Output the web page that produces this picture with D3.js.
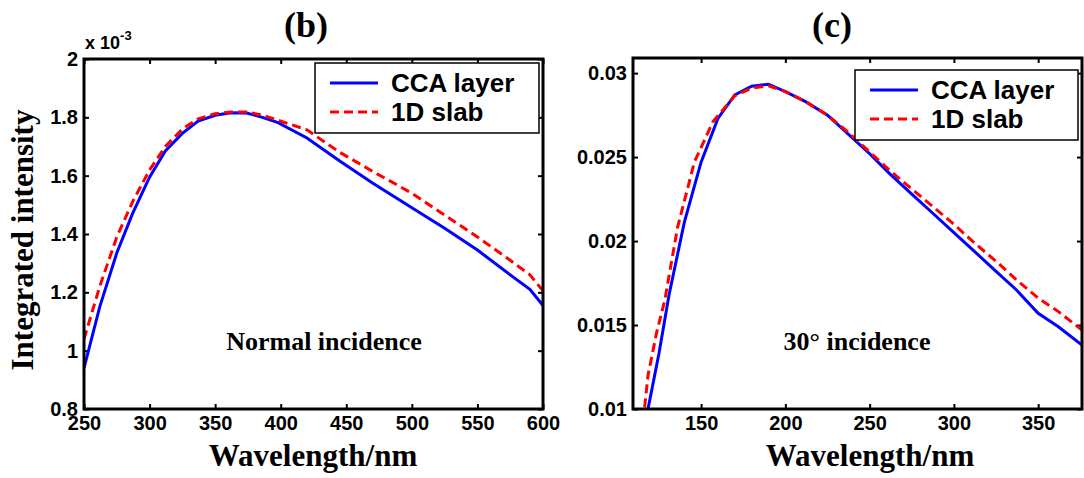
<!DOCTYPE html>
<html>
<head>
<meta charset="utf-8">
<script src="https://cdn.jsdelivr.net/npm/d3@7"></script>
<style>
    body { margin: 0; background: #fff; }
    svg { display: block; }
</style>
</head>
<body>
<svg id="chart" width="1084" height="478"></svg>
<script>
"use strict";

// panel (b): normal incidence, intensity in units of 1e-3
const wavelengthB = [250, 262, 275, 287, 300, 312, 325, 337, 350, 362, 374, 386, 398, 420, 445, 470, 500, 525, 550, 575, 590, 600];
const ccaB = [0.94, 1.15, 1.335, 1.47, 1.595, 1.685, 1.745, 1.787, 1.807, 1.816, 1.815, 1.80, 1.782, 1.729, 1.650, 1.575, 1.49, 1.42, 1.345, 1.26, 1.21, 1.155];
const slabB = [1.04, 1.22, 1.39, 1.51, 1.62, 1.70, 1.76, 1.795, 1.812, 1.818, 1.818, 1.808, 1.79, 1.757, 1.68, 1.615, 1.54, 1.465, 1.39, 1.31, 1.26, 1.205];

// panel (c): 30 degree incidence
const wavelengthC1 = [118.5, 125, 131, 140, 150, 160, 170, 180, 190, 200, 212, 225, 237, 250, 262, 275, 287, 300, 312, 325, 337, 350, 362, 376];
const ccaC = [0.0100, 0.0133, 0.0168, 0.0211, 0.0247, 0.0273, 0.0287, 0.02922, 0.02934, 0.0289, 0.0283, 0.0275, 0.0264, 0.0252, 0.0240, 0.0228, 0.0217, 0.0205, 0.0194, 0.0182, 0.0171, 0.0157, 0.0149, 0.0138];
const wavelengthC2 = [116.5, 118.5, 123.5, 128.5, 136, 146, 157, 170, 180, 190, 200, 212, 225, 237, 250, 262, 275, 287, 300, 312, 325, 337, 350, 362, 376];
const slabC = [0.0101, 0.0120, 0.0145, 0.0165, 0.0208, 0.0247, 0.0271, 0.02865, 0.0291, 0.02925, 0.0289, 0.0283, 0.0275, 0.0265, 0.0253, 0.0242, 0.0231, 0.0221, 0.0210, 0.0199, 0.0188, 0.0177, 0.0166, 0.0158, 0.0147];

const ticksXB = [250, 300, 350, 400, 450, 500, 550, 600];
const ticksYB = [0.8, 1, 1.2, 1.4, 1.6, 1.8, 2];
const ticksXC = [150, 200, 250, 300, 350];
const ticksYC = [0.01, 0.015, 0.02, 0.025, 0.03];

const legendNames = ["CCA layer", "1D slab"];

const svg = d3.select("#chart");
const sansFont = "'Liberation Sans', Arial, sans-serif";
const serifFont = "'Liberation Serif', 'Times New Roman', serif";


function drawPanel(p) {
    const x = d3.scaleLinear().domain(p.xDomain).range([p.left, p.right]);
    const y = d3.scaleLinear().domain(p.yDomain).range([p.bottom, p.top]);
    const g = svg.append("g");

    g.append("clipPath").attr("id", p.id + "-clip")
        .append("rect")
        .attr("x", p.left).attr("y", p.top)
        .attr("width", p.right - p.left).attr("height", p.bottom - p.top);

    // inward ticks on all four sides
    const axes = [
        [d3.axisBottom(x).tickValues(p.xTicks).tickFormat(p.xFormat), p.bottom, true],
        [d3.axisTop(x).tickValues(p.xTicks).tickFormat(""), p.top, true],
        [d3.axisLeft(y).tickValues(p.yTicks).tickFormat(p.yFormat), p.left, false],
        [d3.axisRight(y).tickValues(p.yTicks).tickFormat(""), p.right, false]
    ];
    for (const [axis, pos, horiz] of axes) {
        axis.tickSizeInner(-5).tickSizeOuter(0).tickPadding(horiz ? 7 : 6);
        const ag = g.append("g")
            .attr("transform", horiz ? `translate(0,${pos})` : `translate(${pos},0)`)
            .call(axis);
        ag.select(".domain").remove();
        ag.selectAll("line").attr("stroke", "#000").attr("stroke-width", 2);
        ag.selectAll("text")
            .attr("fill", "#000")
            .style("font-family", sansFont)
            .style("font-weight", "bold")
            .style("font-size", "20px");
    }

    const line = d3.line().x(d => x(d[0])).y(d => y(d[1]));
    const lines = g.append("g").attr("clip-path", `url(#${p.id}-clip)`);
    lines.append("path")
        .datum(d3.zip(p.x1, p.cca))
        .attr("d", line)
        .attr("fill", "none")
        .attr("stroke", "#0000ff")
        .attr("stroke-width", 3);
    lines.append("path")
        .datum(d3.zip(p.x2, p.slab))
        .attr("d", line)
        .attr("fill", "none")
        .attr("stroke", "#ff0000")
        .attr("stroke-width", 3)
        .attr("stroke-dasharray", "9,5");

    g.append("rect")
        .attr("x", p.left).attr("y", p.top)
        .attr("width", p.right - p.left).attr("height", p.bottom - p.top)
        .attr("fill", "none")
        .attr("stroke", "#000")
        .attr("stroke-width", 3);

    // legend
    const lg = g.append("g").attr("transform", `translate(${p.legend[0]},${p.legend[1]})`);
    lg.append("rect")
        .attr("width", p.legend[2]).attr("height", 70)
        .attr("fill", "#fff")
        .attr("stroke", "#000")
        .attr("stroke-width", 1.5);
    const styles = [["#0000ff", null], ["#ff0000", "9,5"]];
    legendNames.forEach((name, i) => {
        const ly = 20 + i * 29;
        lg.append("line")
            .attr("x1", 15).attr("x2", 63)
            .attr("y1", ly).attr("y2", ly)
            .attr("stroke", styles[i][0])
            .attr("stroke-width", 3)
            .attr("stroke-dasharray", styles[i][1]);
        lg.append("text")
            .attr("x", 76).attr("y", ly + 9)
            .style("font-family", sansFont)
            .style("font-weight", "bold")
            .style("font-size", "26px")
            .text(name);
    });

    // panel title, note and x label
    g.append("text")
        .attr("x", p.titleX).attr("y", 37)
        .attr("text-anchor", "middle")
        .style("font-family", serifFont).style("font-weight", "bold").style("font-size", "36px")
        .text(p.title);
    g.append("text")
        .attr("x", p.noteX).attr("y", 350)
        .attr("text-anchor", "middle")
        .style("font-family", serifFont).style("font-weight", "bold").style("font-size", "26px")
        .text(p.note);
    g.append("text")
        .attr("x", p.xLabelX).attr("y", 466)
        .attr("text-anchor", "middle")
        .style("font-family", serifFont).style("font-weight", "bold").style("font-size", "31px")
        .text("Wavelength/nm");
}


drawPanel({
    id: "b", left: 84, right: 543, top: 59, bottom: 409,
    xDomain: [250, 600], yDomain: [0.8, 2],
    xTicks: ticksXB, yTicks: ticksYB,
    xFormat: d => String(d), yFormat: d => String(+d.toFixed(1)),
    x1: wavelengthB, cca: ccaB, x2: wavelengthB, slab: slabB,
    legend: [315, 63, 224],
    title: "(b)", titleX: 306,
    note: "Normal incidence", noteX: 324,
    xLabelX: 313
});

drawPanel({
    id: "c", left: 633, right: 1082, top: 58, bottom: 409,
    xDomain: [109.6, 376], yDomain: [0.01, 0.0309],
    xTicks: ticksXC, yTicks: ticksYC,
    xFormat: d => String(d), yFormat: d => String(+d.toFixed(3)),
    x1: wavelengthC1, cca: ccaC, x2: wavelengthC2, slab: slabC,
    legend: [855, 70, 223],
    title: "(c)", titleX: 832,
    note: "30\u00b0 incidence", noteX: 857,
    xLabelX: 870
});

// y label and exponent of panel (b)
svg.append("text")
    .attr("transform", "translate(33,240) rotate(-90)")
    .attr("text-anchor", "middle")
    .style("font-family", serifFont).style("font-weight", "bold").style("font-size", "31px")
    .text("Integrated intensity");

const expo = svg.append("text")
    .attr("x", 85).attr("y", 49)
    .style("font-family", sansFont).style("font-weight", "bold").style("font-size", "18px");
expo.append("tspan").text("x 10");
expo.append("tspan").attr("dy", -9).style("font-size", "13px").text("-3");
</script>
</body>
</html>
